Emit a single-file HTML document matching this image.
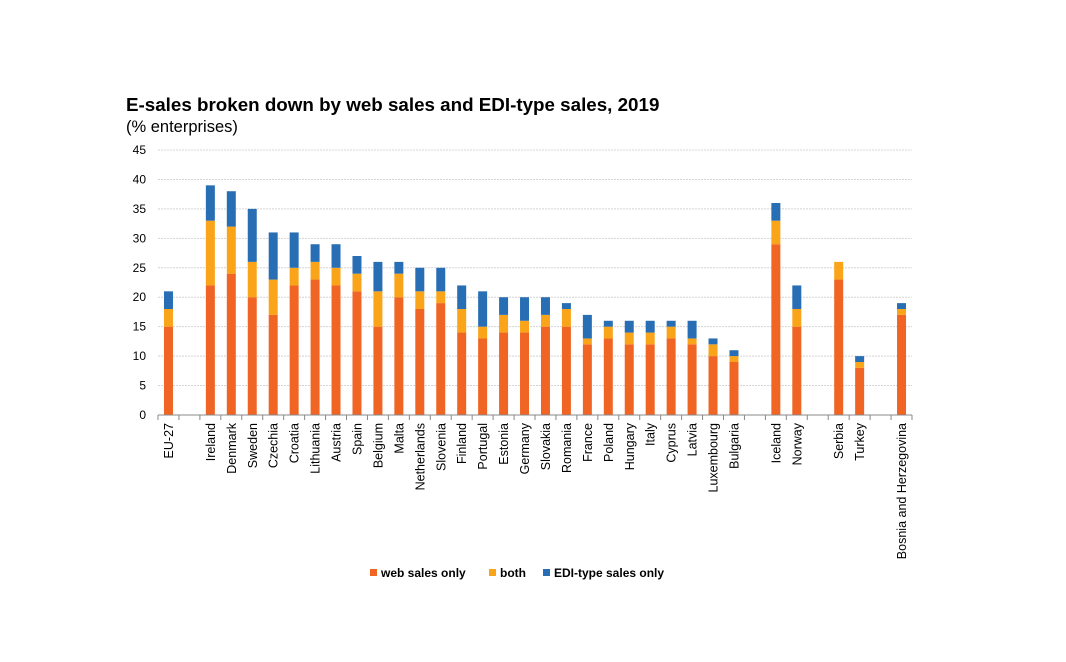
<!DOCTYPE html>
<html><head><meta charset="utf-8"><style>
body{margin:0;background:#fff;font-family:"Liberation Sans",sans-serif;}
</style></head><body>
<svg width="1066" height="657" xmlns="http://www.w3.org/2000/svg" font-family="Liberation Sans, sans-serif">
<text x="126" y="111" font-size="18.8" font-weight="bold" fill="#000">E-sales broken down by web sales and EDI-type sales, 2019</text>
<text x="126" y="132" font-size="16.5" fill="#000">(% enterprises)</text>
<g id="grid"></g><g id="bars"></g><g id="axes"></g>
<g font-size="12" font-weight="bold">
<rect x="370" y="569" width="7" height="7" fill="#f06524"/>
<text x="381" y="577">web sales only</text>
<rect x="489" y="569" width="7" height="7" fill="#faa519"/>
<text x="500" y="577">both</text>
<rect x="543" y="569" width="7" height="7" fill="#286eb4"/>
<text x="554" y="577">EDI-type sales only</text>
</g>
</svg>
<script>
const categories=["EU-27","","Ireland","Denmark","Sweden","Czechia","Croatia","Lithuania","Austria","Spain","Belgium","Malta","Netherlands","Slovenia","Finland","Portugal","Estonia","Germany","Slovakia","Romania","France","Poland","Hungary","Italy","Cyprus","Latvia","Luxembourg","Bulgaria","","Iceland","Norway","","Serbia","Turkey","","Bosnia and Herzegovina"];
const webOnly=[15,null,22,24,20,17,22,23,22,21,15,20,18,19,14,13,14,14,15,15,12,13,12,12,13,12,10,9,null,29,15,null,23,8,null,17];
const both=[3,null,11,8,6,6,3,3,3,3,6,4,3,2,4,2,3,2,2,3,1,2,2,2,2,1,2,1,null,4,3,null,3,1,null,1];
const ediOnly=[3,null,6,6,9,8,6,3,4,3,5,2,4,4,4,6,3,4,3,1,4,1,2,2,1,3,1,1,null,3,4,null,0,1,null,1];
const yTicks=[0,5,10,15,20,25,30,35,40,45];
const NS="http://www.w3.org/2000/svg";
const x0=158,x1=912,yB=415,yT=150,yMax=45;
const slot=(x1-x0)/categories.length;
const y=v=>yB-(v/yMax)*(yB-yT);
const xc=i=>x0+slot*(i+0.5);
function mk(t,a,p){const e=document.createElementNS(NS,t);for(const k in a)e.setAttribute(k,a[k]);p.appendChild(e);return e;}
const grid=document.getElementById('grid'),bars=document.getElementById('bars'),axes=document.getElementById('axes');
yTicks.forEach(v=>{
 if(v>0){const l=mk('line',{x1:x0,x2:x1,y1:y(v),y2:y(v),stroke:'#d4d4d4','stroke-dasharray':'2,1'},grid);
 
 }
 const t=mk('text',{x:x0-12,y:y(v)+4,'font-size':12,'text-anchor':'end'},axes);t.textContent=v;
 
 
});
const bw=9;
categories.forEach((c,i)=>{
 if(webOnly[i]!=null){
  const segs=[[webOnly[i],'#f06524','web'],[both[i],'#faa519','both'],[ediOnly[i],'#286eb4','edi']];
  let base=0;
  segs.forEach(s=>{ if(s[0]>0){
   const r=mk('rect',{x:xc(i)-bw/2,y:y(base+s[0]),width:bw,height:y(base)-y(base+s[0]),fill:s[1]},bars);
   
   }
   base+=s[0];});
 }
 if(c){const t=mk('text',{transform:`translate(${xc(i)+4.5},${yB+8}) rotate(-90)`,'font-size':12.5,'text-anchor':'end'},axes);t.textContent=c;
 
 }
});
for(let i=0;i<=categories.length;i++){const l=mk('line',{x1:x0+slot*i,x2:x0+slot*i,y1:yB,y2:yB+5,stroke:'#888'},axes);
 
 }
const xa=mk('line',{x1:x0,x2:x1,y1:yB,y2:yB,stroke:'#888'},axes);


</script>
</body></html>
